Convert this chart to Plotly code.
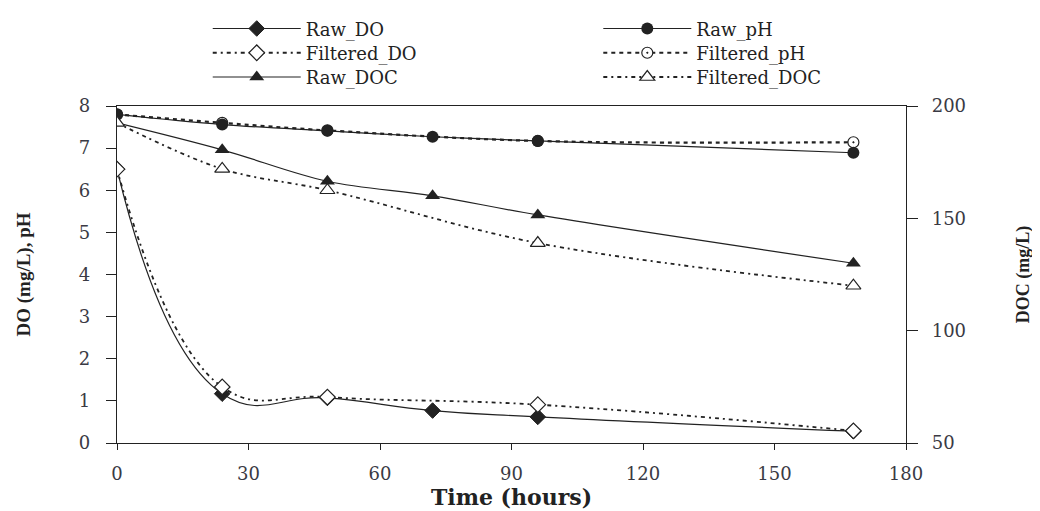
import plotly.graph_objects as go

# Data
time_raw = [0, 24, 48, 72, 96, 168]
time_filt = [0, 24, 48, 96, 168]

raw_do = [6.5, 1.17, 1.07, 0.77, 0.62, 0.28]
filt_do = [6.5, 1.33, 1.09, 0.91, 0.29]

raw_ph = [7.8, 7.56, 7.41, 7.27, 7.17, 6.89]
filt_ph = [7.8, 7.60, 7.42, 7.17, 7.14]

raw_doc = [192.5, 180.5, 166.5, 160.0, 151.5, 130.0]
filt_doc = [192.5, 172.0, 162.5, 139.0, 120.0]

SERIF_W = "DejaVu Serif"
SERIF = "Liberation Serif"
INK = "#222222"
TICKC = "#3a3a44"

fig = go.Figure()

line_raw = dict(color=INK, width=1.2, shape="spline")
line_filt = dict(color=INK, width=1.8, dash="4px,4px,2px,4px", shape="spline")

fig.add_trace(go.Scatter(
    x=time_raw, y=raw_do, name="Raw_DO", mode="lines+markers",
    line=dict(color=INK, width=1.2, shape="spline", smoothing=1.3),
    marker=dict(symbol="diamond", size=12, color=INK, line=dict(color=INK, width=1)),
    legend="legend"))
fig.add_trace(go.Scatter(
    x=time_filt, y=filt_do, name="Filtered_DO", mode="lines+markers",
    line=dict(color=INK, width=1.8, dash="4px,4px,2px,4px", shape="spline", smoothing=1.2),
    marker=dict(symbol="diamond", size=12, color="white", line=dict(color=INK, width=1.2)),
    legend="legend2"))
fig.add_trace(go.Scatter(
    x=time_filt, y=filt_ph, name="Filtered_pH", mode="lines+markers",
    line=dict(color=INK, width=2.2, dash="4px,4px", shape="spline"),
    marker=dict(symbol="circle-dot", size=11, color="white", line=dict(color=INK, width=1.2)),
    legend="legend5"))
fig.add_trace(go.Scatter(
    x=time_raw, y=raw_ph, name="Raw_pH", mode="lines+markers",
    line=line_raw,
    marker=dict(symbol="circle", size=12, color=INK),
    legend="legend4"))
fig.add_trace(go.Scatter(
    x=time_raw, y=raw_doc, name="Raw_DOC", mode="lines+markers", yaxis="y2",
    line=line_raw,
    marker=dict(symbol="triangle-up", size=13, color=INK),
    legend="legend3"))
fig.add_trace(go.Scatter(
    x=time_filt, y=filt_doc, name="Filtered_DOC", mode="lines+markers", yaxis="y2",
    line=line_filt,
    marker=dict(symbol="triangle-up", size=13, color="white", line=dict(color=INK, width=1.2)),
    legend="legend6"))

axis_common = dict(
    showline=True, linecolor=INK, linewidth=1.2, showgrid=False, zeroline=False,
    ticks="outside", tickcolor=INK, tickwidth=1.2,
    tickfont=dict(family=SERIF_W, size=18, color=TICKC),
)

def leg(x, y):
    return dict(
        x=x, y=y, xanchor="left", yanchor="top",
        font=dict(family=SERIF_W, size=18, color=INK), bgcolor="rgba(0,0,0,0)",
        itemwidth=88,
    )

row_y = [1.284, 1.212, 1.140]
col_x = [0.115, 0.61]

fig.update_layout(
    width=1032, height=503,
    margin=dict(l=109, r=134, t=98, b=68, autoexpand=False),
    paper_bgcolor="white", plot_bgcolor="white",
    font=dict(family=SERIF, color=INK),
    showlegend=True,
    xaxis=dict(
        **axis_common, range=[0, 180], tickvals=[0, 30, 60, 90, 120, 150, 180],
        ticklen=6, mirror=True, ticklabelstandoff=8,
        title=dict(text="<b>Time (hours)</b>", font=dict(family=SERIF_W, size=22, color=INK), standoff=0),
    ),
    yaxis=dict(
        **axis_common, range=[0, 8], tickvals=[0, 1, 2, 3, 4, 5, 6, 7, 8],
        ticklen=10, ticklabelstandoff=12,
        title=dict(text="<b>DO (mg/L), pH</b>", font=dict(family=SERIF, size=19, color=INK), standoff=43),
    ),
    yaxis2=dict(
        **axis_common, range=[50, 200], tickvals=[50, 100, 150, 200],
        ticklen=11, overlaying="y", side="right", ticklabelstandoff=10,
        title=dict(text="<b>DOC (mg/L)</b>", font=dict(family=SERIF, size=18, color=INK), standoff=51),
    ),
    legend=leg(col_x[0], row_y[0]),
    legend2=leg(col_x[0], row_y[1]),
    legend3=leg(col_x[0], row_y[2]),
    legend4=leg(col_x[1], row_y[0]),
    legend5=leg(col_x[1], row_y[1]),
    legend6=leg(col_x[1], row_y[2]),
)

fig.write_html("out.html")
